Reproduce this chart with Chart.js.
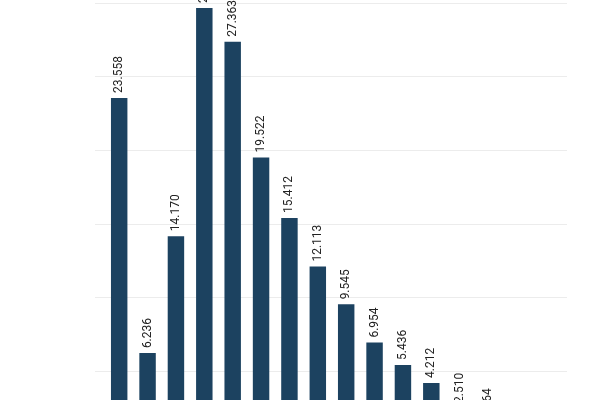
<!DOCTYPE html>
<html>
<head>
<meta charset="utf-8">
<script src="https://cdn.jsdelivr.net/npm/chart.js@4.4.1/dist/chart.umd.min.js"></script>
<style>
  html, body { margin: 0; padding: 0; background: #fff; overflow: hidden; }
  #wrap { position: absolute; left: 0; top: 0; width: 600px; height: 462px; }
</style>
</head>
<body>
<div id="wrap"><canvas id="chart"></canvas></div>
<script>
// categories are not visible in the picture, only the bars
const categories = ['1', '2', '3', '4', '5', '6', '7', '8', '9', '10', '11', '12', '13', '14', '15', '16'];
const values = [23.558, 6.236, 14.170, 29.66, 27.363, 19.522, 15.412, 12.113, 9.545, 6.954, 5.436, 4.212, 2.510, 1.464, 0.62, 0.21];
const yTicks = [0, 5, 10, 15, 20, 25, 30];

const gridColor = '#ececec';

// value labels written upward above each bar
const barLabels = {
  id: 'barLabels',
  afterDatasetsDraw(chart) {
    const ctx = chart.ctx;
    const meta = chart.getDatasetMeta(0);
    ctx.save();
    ctx.font = '12px Roboto, "Liberation Sans", sans-serif';
    ctx.fillStyle = '#222';
    ctx.textAlign = 'left';
    ctx.textBaseline = 'middle';
    meta.data.forEach((bar, i) => {
      ctx.save();
      ctx.translate(bar.x, bar.y - 5);
      ctx.rotate(-Math.PI / 2);
      ctx.fillText(values[i].toFixed(3), 0, 0);
      ctx.restore();
    });
    ctx.restore();
  }
};

const ctx = document.getElementById('chart').getContext('2d');
new Chart(ctx, {
  type: 'bar',
  data: {
    labels: categories,
    datasets: [{
      data: values,
      backgroundColor: '#1c4260',
      borderWidth: 0,
      categoryPercentage: 1,
      barPercentage: 0.58
    }]
  },
  options: {
    responsive: true,
    maintainAspectRatio: false,
    animation: false,
    layout: { padding: { left: 95, right: 33, top: 3, bottom: 17 } },
    plugins: {
      legend: { display: false },
      tooltip: { enabled: false }
    },
    scales: {
      x: {
        display: false
      },
      y: {
        min: yTicks[0],
        max: yTicks[yTicks.length - 1],
        afterBuildTicks: axis => { axis.ticks = yTicks.map(v => ({ value: v })); },
        ticks: { display: false },
        border: { display: false },
        grid: { color: gridColor, tickLength: 10, tickColor: gridColor }
      },
      yRight: {
        position: 'right',
        min: yTicks[0],
        max: yTicks[yTicks.length - 1],
        afterBuildTicks: axis => { axis.ticks = yTicks.map(v => ({ value: v })); },
        ticks: { display: false },
        border: { display: false },
        grid: { drawOnChartArea: false, color: gridColor, tickLength: 8, tickColor: gridColor }
      }
    }
  },
  plugins: [barLabels]
});
</script>
</body>
</html>
